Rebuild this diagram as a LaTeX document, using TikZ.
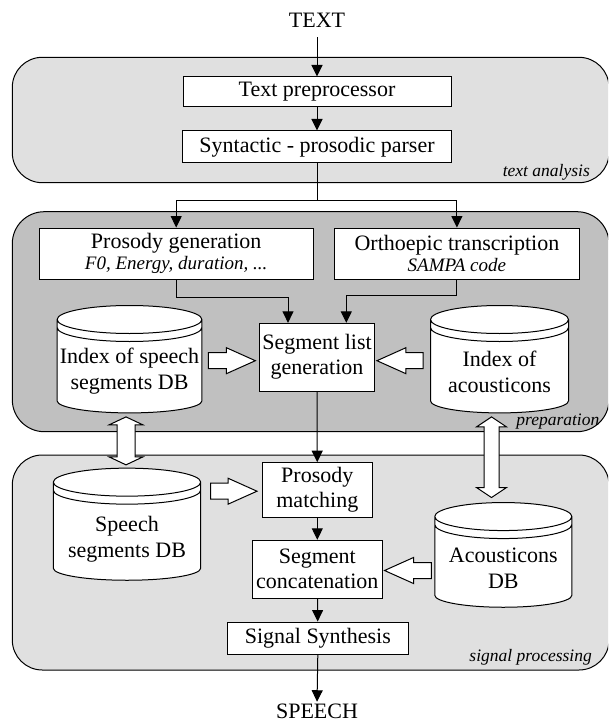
\documentclass[tikz,border=0pt]{standalone}
\usepackage{fontspec}
\setmainfont{Liberation Serif}
\usetikzlibrary{arrows.meta,calc}

\definecolor{panelLight}{RGB}{224,224,224}
\definecolor{panelDark}{RGB}{192,192,192}

% database cylinder drawn round an empty named node
\newcommand\cylout[1]{%
  \draw[cyl] let \p1=(#1.north west), \p2=(#1.south east), \n1={(\x2-\x1)/2} in
    (\x1,{\y1-14pt}) -- (\x1,{\y2+12pt})
    arc[start angle=180, end angle=360, x radius={\n1*1pt}, y radius=12pt]
    -- (\x2,{\y1-14pt})
    arc[start angle=0, end angle=180, x radius={\n1*1pt}, y radius=14pt] -- cycle
    (\x1,{\y1-14pt}) arc[start angle=180, end angle=360, x radius={\n1*1pt}, y radius=14pt]
    (\x1,{\y1-22pt}) arc[start angle=180, end angle=360, x radius={\n1*1pt}, y radius=14pt];}

% hollow block arrows: from start point to tip
\newcommand\hblockR[2]{%
  \draw[blockarrow] let \p1=(#1), \p2=(#2) in
    (\x1,{\y1+8pt}) -- ({\x2-29pt},{\y1+8pt}) -- ({\x2-29pt},{\y1+13pt}) -- (\x2,\y1)
    -- ({\x2-29pt},{\y1-13pt}) -- ({\x2-29pt},{\y1-8pt}) -- (\x1,{\y1-8pt}) -- cycle;}
\newcommand\hblockL[2]{%
  \draw[blockarrow] let \p1=(#1), \p2=(#2) in
    (\x1,{\y1+8pt}) -- ({\x2+29pt},{\y1+8pt}) -- ({\x2+29pt},{\y1+13pt}) -- (\x2,\y1)
    -- ({\x2+29pt},{\y1-13pt}) -- ({\x2+29pt},{\y1-8pt}) -- (\x1,{\y1-8pt}) -- cycle;}
% vertical double-headed block arrow: upper tip, lower tip, head lengths, half widths
\newcommand\vdouble[6]{%
  \draw[blockarrow] let \p1=(#1), \p2=(#2) in
    (\x1,\y1) -- ({\x1+#6},{\y1-#3}) -- ({\x1+#5},{\y1-#3}) -- ({\x1+#5},{\y2+#4})
    -- ({\x1+#6},{\y2+#4}) -- (\x1,\y2) -- ({\x1-#6},{\y2+#4}) -- ({\x1-#5},{\y2+#4})
    -- ({\x1-#5},{\y1-#3}) -- ({\x1-#6},{\y1-#3}) -- cycle;}

\begin{document}
\begin{tikzpicture}[x=1pt,y=-1pt,
  every node/.style={font=\fontsize{22}{26}\selectfont, inner sep=0pt},
  panel/.style={draw=black, line width=1pt},
  box/.style={draw=black, line width=1pt, fill=white, align=center},
  flow/.style={line width=1pt, -{Triangle[length=11.5pt,width=11pt]}},
  plain/.style={line width=1pt},
  dbshape/.style={draw=none, inner sep=0pt},
  dbtext/.style={align=center},
  cyl/.style={draw=black, line width=1pt, fill=white},
  blockarrow/.style={draw=black, line width=1pt, fill=white, line join=miter},
  tag/.style={font=\fontsize{17.5}{20}\selectfont\itshape}]

\useasboundingbox (0,0) rectangle (608,722);
\clip (0,0) rectangle (608,722);

% stage panels
\node[panel, fill=panelLight, rounded corners=30pt, minimum width=596.7pt, minimum height=125.4pt] (pText) at (310.65,120) {};
\node[panel, fill=panelDark, rounded corners=32pt, minimum width=596.7pt, minimum height=220pt] (pPrep) at (310.65,321.7) {};
\node[panel, fill=panelLight, rounded corners=30pt, minimum width=596.7pt, minimum height=215pt] (pSig) at (310.65,562.5) {};

% process boxes
\node[box, minimum width=268pt, minimum height=30pt] (pre) at (317,92) {Text preprocessor};
\node[box, minimum width=268.5pt, minimum height=32pt] (syn) at (317,147) {Syntactic - prosodic parser};
\node[box, minimum width=273.7pt, minimum height=51.3pt] (pros) at (176.2,253.7)
  {Prosody generation\\[-5pt]{\fontsize{19}{21}\selectfont\itshape F0, Energy, duration, ...}};
\node[box, minimum width=244.3pt, minimum height=51.3pt] (orth) at (456.9,253.7)
  {Orthoepic transcription\\[-5pt]{\fontsize{19}{21}\selectfont\itshape SAMPA code}};
\node[box, minimum width=115.7pt, minimum height=67.7pt] (segl) at (317,357.2) {Segment list\\[-1pt]generation};
\node[box, minimum width=110pt, minimum height=55pt] (pmat) at (317.3,490.2) {Prosody\\[-1pt]matching};
\node[box, minimum width=130pt, minimum height=58pt] (scat) at (317.3,569.3) {Segment\\[-1pt]concatenation};
\node[box, minimum width=181pt, minimum height=32.3pt] (ssyn) at (317.8,638.2) {Signal Synthesis};

% input and output
\node[anchor=base] (TEXT) at (317,28) {TEXT};
\node[anchor=base] (SPEECH) at (317,718.5) {SPEECH};

% flow connectors
\coordinate (br) at (317,200.7);
\coordinate (pj) at (288,297.3);
\coordinate (oj) at (346.3,295.5);
\draw[flow, shorten <=9pt] (TEXT.south) -- (pre.north);
\draw[flow] (pre) -- (syn);
\draw[plain] (syn.south) -- (br);
\draw[flow] (br) -| (pros.north);
\draw[flow] (br) -| (orth.north);
\draw[flow] (pros.south) |- (pj) -- (pj |- segl.north);
\draw[flow] (orth.south) |- (oj) -- (oj |- segl.north);
\draw[flow] (segl) -- (pmat);
\draw[flow] (pmat) -- (scat);
\draw[flow] (scat) -- (ssyn);
\draw[flow, shorten >=2pt] (ssyn.south) -- (SPEECH.north);

% databases
\node[dbshape, minimum width=144.4pt, minimum height=107pt] (idxspC) at (129.5,359.2) {};
\node[dbshape, minimum width=137.6pt, minimum height=107pt] (idxacC) at (499.5,359.2) {};
\node[dbshape, minimum width=147pt, minimum height=111.7pt] (spsegC) at (127,524.2) {};
\node[dbshape, minimum width=136.7pt, minimum height=104.3pt] (acC) at (503.3,554.9) {};
\cylout{idxspC}
\cylout{idxacC}
\cylout{spsegC}
\cylout{acC}
\node[dbtext] (idxsp) at (129.5,371.5) {Index of speech\\segments DB};
\node[dbtext] (idxac) at (499.5,371.7) {Index of\\acousticons};
\node[dbtext] (spseg) at (127,539.3) {Speech\\segments DB};
\node[dbtext] (acdb) at (503.3,568.2) {Acousticons\\DB};

% hollow block arrows
\coordinate (bA1s) at ($(idxspC.east)+(6.5,1.5)$);
\coordinate (bA1t) at ($(segl.west)+(-3.3,0)$);
\coordinate (bA2s) at ($(idxacC.west)+(-7.4,1.5)$);
\coordinate (bA2t) at ($(segl.east)+(1.6,0)$);
\coordinate (bA3s) at ($(spsegC.east)+(10,-33)$);
\coordinate (bA3t) at ($(pmat.west)+(-4.8,0)$);
\coordinate (bA4s) at ($(acC.west)+(-3.5,15.6)$);
\coordinate (bA4t) at ($(scat.east)+(1.7,0)$);
\hblockR{bA1s}{bA1t}
\hblockL{bA2s}{bA2t}
\hblockR{bA3s}{bA3t}
\hblockL{bA4s}{bA4t}

\coordinate (dA1) at ($(idxspC.south)+(-3.5,4)$);
\coordinate (dA2) at ($(spsegC.north)+(-1,-3.3)$);
\coordinate (dB1) at ($(idxacC.south)+(-8,4)$);
\coordinate (dB2) at ($(acC.north)+(-11.8,-5)$);
\vdouble{dA1}{dA2}{8pt}{8pt}{9pt}{17pt}
\vdouble{dB1}{dB2}{10pt}{10pt}{7.5pt}{15pt}

% stage labels
\node[tag, anchor=base east] (tA) at (590,177) {text analysis};
\node[tag, anchor=base east] (tP) at (599.5,425) {preparation};
\node[tag, anchor=base east] (tS) at (592,661) {signal processing};
\end{tikzpicture}
\end{document}
